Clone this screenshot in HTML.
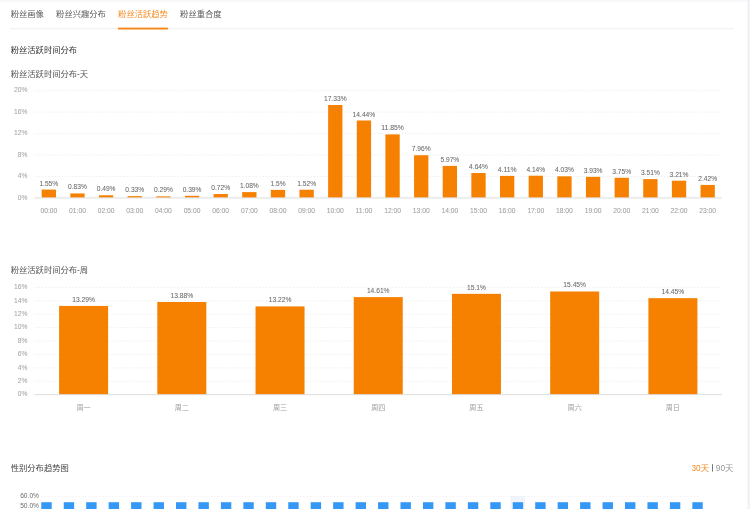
<!DOCTYPE html>
<html lang="zh-CN">
<head>
<meta charset="utf-8">
<title>粉丝活跃趋势</title>
<style>
html,body{margin:0;padding:0;background:#fff;}
body{width:750px;height:509px;overflow:hidden;font-family:"Liberation Sans","Noto Sans CJK SC",sans-serif;}
svg{display:block;position:absolute;left:0;top:0;will-change:transform;}
svg text{font-family:"Liberation Sans","Noto Sans CJK SC",sans-serif;}
.t{position:absolute;white-space:nowrap;line-height:1.2;color:transparent;overflow:hidden;}
</style>
</head>
<body>
<svg width="750" height="509" viewBox="0 0 750 509">
<rect x="0.00" y="0.00" width="750.00" height="2.00" fill="#f6f7f9"/>
<rect x="747.40" y="0.00" width="2.60" height="509.00" fill="#f0f2f6"/>
<line x1="10.00" y1="28.70" x2="733.50" y2="28.70" stroke="#eeeeee" stroke-width="0.90"/>
<text x="10.70" y="17.35" font-size="8.3" fill="#5a5a5a">粉丝画像</text>
<text x="56.10" y="17.35" font-size="8.3" fill="#5a5a5a">粉丝兴趣分布</text>
<text x="118.10" y="17.35" font-size="8.3" fill="#f58a1f">粉丝活跃趋势</text>
<rect x="118.10" y="27.60" width="49.80" height="1.90" fill="#f6851a"/>
<text x="180.10" y="17.35" font-size="8.3" fill="#5a5a5a">粉丝重合度</text>
<text x="10.70" y="53.45" font-size="8.3" fill="#333">粉丝活跃时间分布</text>
<text x="10.70" y="76.55" font-size="8.3" fill="#555">粉丝活跃时间分布-天</text>
<line x1="34.50" y1="176.46" x2="722.00" y2="176.46" stroke="#ebebef" stroke-width="0.70" stroke-dasharray="1.8 1.6"/>
<line x1="34.50" y1="155.02" x2="722.00" y2="155.02" stroke="#ebebef" stroke-width="0.70" stroke-dasharray="1.8 1.6"/>
<line x1="34.50" y1="133.58" x2="722.00" y2="133.58" stroke="#ebebef" stroke-width="0.70" stroke-dasharray="1.8 1.6"/>
<line x1="34.50" y1="112.14" x2="722.00" y2="112.14" stroke="#ebebef" stroke-width="0.70" stroke-dasharray="1.8 1.6"/>
<line x1="34.50" y1="90.70" x2="722.00" y2="90.70" stroke="#ebebef" stroke-width="0.70" stroke-dasharray="1.8 1.6"/>
<text x="27.40" y="199.60" fill="#a6a6a6" font-size="7.35" text-anchor="end" textLength="9.63" lengthAdjust="spacingAndGlyphs" stroke="#a6a6a6" stroke-width="0.06">0%</text>
<text x="27.40" y="178.16" fill="#a6a6a6" font-size="7.35" text-anchor="end" textLength="9.63" lengthAdjust="spacingAndGlyphs" stroke="#a6a6a6" stroke-width="0.06">4%</text>
<text x="27.40" y="156.72" fill="#a6a6a6" font-size="7.35" text-anchor="end" textLength="9.63" lengthAdjust="spacingAndGlyphs" stroke="#a6a6a6" stroke-width="0.06">8%</text>
<text x="27.40" y="135.28" fill="#a6a6a6" font-size="7.35" text-anchor="end" textLength="13.46" lengthAdjust="spacingAndGlyphs" stroke="#a6a6a6" stroke-width="0.06">12%</text>
<text x="27.40" y="113.84" fill="#a6a6a6" font-size="7.35" text-anchor="end" textLength="13.46" lengthAdjust="spacingAndGlyphs" stroke="#a6a6a6" stroke-width="0.06">16%</text>
<text x="27.40" y="92.40" fill="#a6a6a6" font-size="7.35" text-anchor="end" textLength="13.46" lengthAdjust="spacingAndGlyphs" stroke="#a6a6a6" stroke-width="0.06">20%</text>
<rect x="41.67" y="189.59" width="14.30" height="8.21" fill="#f68000"/>
<text x="48.82" y="185.59" fill="#6a6a6a" font-size="7.35" text-anchor="middle" textLength="18.83" lengthAdjust="spacingAndGlyphs" stroke="#6a6a6a" stroke-width="0.06">1.55%</text>
<text x="48.82" y="212.90" fill="#a0a0a0" font-size="7.35" text-anchor="middle" textLength="16.85" lengthAdjust="spacingAndGlyphs" stroke="#a0a0a0" stroke-width="0.06">00:00</text>
<rect x="70.32" y="193.45" width="14.30" height="4.35" fill="#f68000"/>
<text x="77.47" y="189.45" fill="#6a6a6a" font-size="7.35" text-anchor="middle" textLength="18.83" lengthAdjust="spacingAndGlyphs" stroke="#6a6a6a" stroke-width="0.06">0.83%</text>
<text x="77.47" y="212.90" fill="#a0a0a0" font-size="7.35" text-anchor="middle" textLength="16.85" lengthAdjust="spacingAndGlyphs" stroke="#a0a0a0" stroke-width="0.06">01:00</text>
<rect x="98.96" y="195.27" width="14.30" height="2.53" fill="#f68000"/>
<text x="106.11" y="191.27" fill="#6a6a6a" font-size="7.35" text-anchor="middle" textLength="18.83" lengthAdjust="spacingAndGlyphs" stroke="#6a6a6a" stroke-width="0.06">0.49%</text>
<text x="106.11" y="212.90" fill="#a0a0a0" font-size="7.35" text-anchor="middle" textLength="16.85" lengthAdjust="spacingAndGlyphs" stroke="#a0a0a0" stroke-width="0.06">02:00</text>
<rect x="127.61" y="196.13" width="14.30" height="1.67" fill="#f68000"/>
<text x="134.76" y="192.13" fill="#6a6a6a" font-size="7.35" text-anchor="middle" textLength="18.83" lengthAdjust="spacingAndGlyphs" stroke="#6a6a6a" stroke-width="0.06">0.33%</text>
<text x="134.76" y="212.90" fill="#a0a0a0" font-size="7.35" text-anchor="middle" textLength="16.85" lengthAdjust="spacingAndGlyphs" stroke="#a0a0a0" stroke-width="0.06">03:00</text>
<rect x="156.26" y="196.35" width="14.30" height="1.45" fill="#f68000"/>
<text x="163.41" y="192.35" fill="#6a6a6a" font-size="7.35" text-anchor="middle" textLength="18.83" lengthAdjust="spacingAndGlyphs" stroke="#6a6a6a" stroke-width="0.06">0.29%</text>
<text x="163.41" y="212.90" fill="#a0a0a0" font-size="7.35" text-anchor="middle" textLength="16.85" lengthAdjust="spacingAndGlyphs" stroke="#a0a0a0" stroke-width="0.06">04:00</text>
<rect x="184.90" y="195.81" width="14.30" height="1.99" fill="#f68000"/>
<text x="192.05" y="191.81" fill="#6a6a6a" font-size="7.35" text-anchor="middle" textLength="18.83" lengthAdjust="spacingAndGlyphs" stroke="#6a6a6a" stroke-width="0.06">0.39%</text>
<text x="192.05" y="212.90" fill="#a0a0a0" font-size="7.35" text-anchor="middle" textLength="16.85" lengthAdjust="spacingAndGlyphs" stroke="#a0a0a0" stroke-width="0.06">05:00</text>
<rect x="213.55" y="194.04" width="14.30" height="3.76" fill="#f68000"/>
<text x="220.70" y="190.04" fill="#6a6a6a" font-size="7.35" text-anchor="middle" textLength="18.83" lengthAdjust="spacingAndGlyphs" stroke="#6a6a6a" stroke-width="0.06">0.72%</text>
<text x="220.70" y="212.90" fill="#a0a0a0" font-size="7.35" text-anchor="middle" textLength="16.85" lengthAdjust="spacingAndGlyphs" stroke="#a0a0a0" stroke-width="0.06">06:00</text>
<rect x="242.19" y="192.11" width="14.30" height="5.69" fill="#f68000"/>
<text x="249.34" y="188.11" fill="#6a6a6a" font-size="7.35" text-anchor="middle" textLength="18.83" lengthAdjust="spacingAndGlyphs" stroke="#6a6a6a" stroke-width="0.06">1.08%</text>
<text x="249.34" y="212.90" fill="#a0a0a0" font-size="7.35" text-anchor="middle" textLength="16.85" lengthAdjust="spacingAndGlyphs" stroke="#a0a0a0" stroke-width="0.06">07:00</text>
<rect x="270.84" y="189.86" width="14.30" height="7.94" fill="#f68000"/>
<text x="277.99" y="185.86" fill="#6a6a6a" font-size="7.35" text-anchor="middle" textLength="15.00" lengthAdjust="spacingAndGlyphs" stroke="#6a6a6a" stroke-width="0.06">1.5%</text>
<text x="277.99" y="212.90" fill="#a0a0a0" font-size="7.35" text-anchor="middle" textLength="16.85" lengthAdjust="spacingAndGlyphs" stroke="#a0a0a0" stroke-width="0.06">08:00</text>
<rect x="299.49" y="189.75" width="14.30" height="8.05" fill="#f68000"/>
<text x="306.64" y="185.75" fill="#6a6a6a" font-size="7.35" text-anchor="middle" textLength="18.83" lengthAdjust="spacingAndGlyphs" stroke="#6a6a6a" stroke-width="0.06">1.52%</text>
<text x="306.64" y="212.90" fill="#a0a0a0" font-size="7.35" text-anchor="middle" textLength="16.85" lengthAdjust="spacingAndGlyphs" stroke="#a0a0a0" stroke-width="0.06">09:00</text>
<rect x="328.13" y="105.01" width="14.30" height="92.79" fill="#f68000"/>
<text x="335.28" y="101.01" fill="#6a6a6a" font-size="7.35" text-anchor="middle" textLength="22.66" lengthAdjust="spacingAndGlyphs" stroke="#6a6a6a" stroke-width="0.06">17.33%</text>
<text x="335.28" y="212.90" fill="#a0a0a0" font-size="7.35" text-anchor="middle" textLength="16.85" lengthAdjust="spacingAndGlyphs" stroke="#a0a0a0" stroke-width="0.06">10:00</text>
<rect x="356.78" y="120.50" width="14.30" height="77.30" fill="#f68000"/>
<text x="363.93" y="116.50" fill="#6a6a6a" font-size="7.35" text-anchor="middle" textLength="22.66" lengthAdjust="spacingAndGlyphs" stroke="#6a6a6a" stroke-width="0.06">14.44%</text>
<text x="363.93" y="212.90" fill="#a0a0a0" font-size="7.35" text-anchor="middle" textLength="16.85" lengthAdjust="spacingAndGlyphs" stroke="#a0a0a0" stroke-width="0.06">11:00</text>
<rect x="385.42" y="134.38" width="14.30" height="63.42" fill="#f68000"/>
<text x="392.57" y="130.38" fill="#6a6a6a" font-size="7.35" text-anchor="middle" textLength="22.66" lengthAdjust="spacingAndGlyphs" stroke="#6a6a6a" stroke-width="0.06">11.85%</text>
<text x="392.57" y="212.90" fill="#a0a0a0" font-size="7.35" text-anchor="middle" textLength="16.85" lengthAdjust="spacingAndGlyphs" stroke="#a0a0a0" stroke-width="0.06">12:00</text>
<rect x="414.07" y="155.23" width="14.30" height="42.57" fill="#f68000"/>
<text x="421.22" y="151.23" fill="#6a6a6a" font-size="7.35" text-anchor="middle" textLength="18.83" lengthAdjust="spacingAndGlyphs" stroke="#6a6a6a" stroke-width="0.06">7.96%</text>
<text x="421.22" y="212.90" fill="#a0a0a0" font-size="7.35" text-anchor="middle" textLength="16.85" lengthAdjust="spacingAndGlyphs" stroke="#a0a0a0" stroke-width="0.06">13:00</text>
<rect x="442.71" y="165.90" width="14.30" height="31.90" fill="#f68000"/>
<text x="449.86" y="161.90" fill="#6a6a6a" font-size="7.35" text-anchor="middle" textLength="18.83" lengthAdjust="spacingAndGlyphs" stroke="#6a6a6a" stroke-width="0.06">5.97%</text>
<text x="449.86" y="212.90" fill="#a0a0a0" font-size="7.35" text-anchor="middle" textLength="16.85" lengthAdjust="spacingAndGlyphs" stroke="#a0a0a0" stroke-width="0.06">14:00</text>
<rect x="471.36" y="173.03" width="14.30" height="24.77" fill="#f68000"/>
<text x="478.51" y="169.03" fill="#6a6a6a" font-size="7.35" text-anchor="middle" textLength="18.83" lengthAdjust="spacingAndGlyphs" stroke="#6a6a6a" stroke-width="0.06">4.64%</text>
<text x="478.51" y="212.90" fill="#a0a0a0" font-size="7.35" text-anchor="middle" textLength="16.85" lengthAdjust="spacingAndGlyphs" stroke="#a0a0a0" stroke-width="0.06">15:00</text>
<rect x="500.01" y="175.87" width="14.30" height="21.93" fill="#f68000"/>
<text x="507.16" y="171.87" fill="#6a6a6a" font-size="7.35" text-anchor="middle" textLength="18.83" lengthAdjust="spacingAndGlyphs" stroke="#6a6a6a" stroke-width="0.06">4.11%</text>
<text x="507.16" y="212.90" fill="#a0a0a0" font-size="7.35" text-anchor="middle" textLength="16.85" lengthAdjust="spacingAndGlyphs" stroke="#a0a0a0" stroke-width="0.06">16:00</text>
<rect x="528.65" y="175.71" width="14.30" height="22.09" fill="#f68000"/>
<text x="535.80" y="171.71" fill="#6a6a6a" font-size="7.35" text-anchor="middle" textLength="18.83" lengthAdjust="spacingAndGlyphs" stroke="#6a6a6a" stroke-width="0.06">4.14%</text>
<text x="535.80" y="212.90" fill="#a0a0a0" font-size="7.35" text-anchor="middle" textLength="16.85" lengthAdjust="spacingAndGlyphs" stroke="#a0a0a0" stroke-width="0.06">17:00</text>
<rect x="557.30" y="176.30" width="14.30" height="21.50" fill="#f68000"/>
<text x="564.45" y="172.30" fill="#6a6a6a" font-size="7.35" text-anchor="middle" textLength="18.83" lengthAdjust="spacingAndGlyphs" stroke="#6a6a6a" stroke-width="0.06">4.03%</text>
<text x="564.45" y="212.90" fill="#a0a0a0" font-size="7.35" text-anchor="middle" textLength="16.85" lengthAdjust="spacingAndGlyphs" stroke="#a0a0a0" stroke-width="0.06">18:00</text>
<rect x="585.94" y="176.84" width="14.30" height="20.96" fill="#f68000"/>
<text x="593.09" y="172.84" fill="#6a6a6a" font-size="7.35" text-anchor="middle" textLength="18.83" lengthAdjust="spacingAndGlyphs" stroke="#6a6a6a" stroke-width="0.06">3.93%</text>
<text x="593.09" y="212.90" fill="#a0a0a0" font-size="7.35" text-anchor="middle" textLength="16.85" lengthAdjust="spacingAndGlyphs" stroke="#a0a0a0" stroke-width="0.06">19:00</text>
<rect x="614.59" y="177.80" width="14.30" height="20.00" fill="#f68000"/>
<text x="621.74" y="173.80" fill="#6a6a6a" font-size="7.35" text-anchor="middle" textLength="18.83" lengthAdjust="spacingAndGlyphs" stroke="#6a6a6a" stroke-width="0.06">3.75%</text>
<text x="621.74" y="212.90" fill="#a0a0a0" font-size="7.35" text-anchor="middle" textLength="16.85" lengthAdjust="spacingAndGlyphs" stroke="#a0a0a0" stroke-width="0.06">20:00</text>
<rect x="643.24" y="179.09" width="14.30" height="18.71" fill="#f68000"/>
<text x="650.39" y="175.09" fill="#6a6a6a" font-size="7.35" text-anchor="middle" textLength="18.83" lengthAdjust="spacingAndGlyphs" stroke="#6a6a6a" stroke-width="0.06">3.51%</text>
<text x="650.39" y="212.90" fill="#a0a0a0" font-size="7.35" text-anchor="middle" textLength="16.85" lengthAdjust="spacingAndGlyphs" stroke="#a0a0a0" stroke-width="0.06">21:00</text>
<rect x="671.88" y="180.69" width="14.30" height="17.11" fill="#f68000"/>
<text x="679.03" y="176.69" fill="#6a6a6a" font-size="7.35" text-anchor="middle" textLength="18.83" lengthAdjust="spacingAndGlyphs" stroke="#6a6a6a" stroke-width="0.06">3.21%</text>
<text x="679.03" y="212.90" fill="#a0a0a0" font-size="7.35" text-anchor="middle" textLength="16.85" lengthAdjust="spacingAndGlyphs" stroke="#a0a0a0" stroke-width="0.06">22:00</text>
<rect x="700.53" y="184.93" width="14.30" height="12.87" fill="#f68000"/>
<text x="707.68" y="180.93" fill="#6a6a6a" font-size="7.35" text-anchor="middle" textLength="18.83" lengthAdjust="spacingAndGlyphs" stroke="#6a6a6a" stroke-width="0.06">2.42%</text>
<text x="707.68" y="212.90" fill="#a0a0a0" font-size="7.35" text-anchor="middle" textLength="16.85" lengthAdjust="spacingAndGlyphs" stroke="#a0a0a0" stroke-width="0.06">23:00</text>
<line x1="34.50" y1="197.90" x2="722.00" y2="197.90" stroke="#dcdcdc" stroke-width="1.00"/>
<text x="10.70" y="273.35" font-size="8.3" fill="#555">粉丝活跃时间分布-周</text>
<line x1="34.50" y1="381.29" x2="722.00" y2="381.29" stroke="#ebebef" stroke-width="0.70" stroke-dasharray="1.8 1.6"/>
<line x1="34.50" y1="367.88" x2="722.00" y2="367.88" stroke="#ebebef" stroke-width="0.70" stroke-dasharray="1.8 1.6"/>
<line x1="34.50" y1="354.46" x2="722.00" y2="354.46" stroke="#ebebef" stroke-width="0.70" stroke-dasharray="1.8 1.6"/>
<line x1="34.50" y1="341.05" x2="722.00" y2="341.05" stroke="#ebebef" stroke-width="0.70" stroke-dasharray="1.8 1.6"/>
<line x1="34.50" y1="327.64" x2="722.00" y2="327.64" stroke="#ebebef" stroke-width="0.70" stroke-dasharray="1.8 1.6"/>
<line x1="34.50" y1="314.23" x2="722.00" y2="314.23" stroke="#ebebef" stroke-width="0.70" stroke-dasharray="1.8 1.6"/>
<line x1="34.50" y1="300.82" x2="722.00" y2="300.82" stroke="#ebebef" stroke-width="0.70" stroke-dasharray="1.8 1.6"/>
<line x1="34.50" y1="287.40" x2="722.00" y2="287.40" stroke="#ebebef" stroke-width="0.70" stroke-dasharray="1.8 1.6"/>
<text x="27.40" y="396.40" fill="#a6a6a6" font-size="7.35" text-anchor="end" textLength="9.63" lengthAdjust="spacingAndGlyphs" stroke="#a6a6a6" stroke-width="0.06">0%</text>
<text x="27.40" y="382.99" fill="#a6a6a6" font-size="7.35" text-anchor="end" textLength="9.63" lengthAdjust="spacingAndGlyphs" stroke="#a6a6a6" stroke-width="0.06">2%</text>
<text x="27.40" y="369.58" fill="#a6a6a6" font-size="7.35" text-anchor="end" textLength="9.63" lengthAdjust="spacingAndGlyphs" stroke="#a6a6a6" stroke-width="0.06">4%</text>
<text x="27.40" y="356.16" fill="#a6a6a6" font-size="7.35" text-anchor="end" textLength="9.63" lengthAdjust="spacingAndGlyphs" stroke="#a6a6a6" stroke-width="0.06">6%</text>
<text x="27.40" y="342.75" fill="#a6a6a6" font-size="7.35" text-anchor="end" textLength="9.63" lengthAdjust="spacingAndGlyphs" stroke="#a6a6a6" stroke-width="0.06">8%</text>
<text x="27.40" y="329.34" fill="#a6a6a6" font-size="7.35" text-anchor="end" textLength="13.46" lengthAdjust="spacingAndGlyphs" stroke="#a6a6a6" stroke-width="0.06">10%</text>
<text x="27.40" y="315.93" fill="#a6a6a6" font-size="7.35" text-anchor="end" textLength="13.46" lengthAdjust="spacingAndGlyphs" stroke="#a6a6a6" stroke-width="0.06">12%</text>
<text x="27.40" y="302.52" fill="#a6a6a6" font-size="7.35" text-anchor="end" textLength="13.46" lengthAdjust="spacingAndGlyphs" stroke="#a6a6a6" stroke-width="0.06">14%</text>
<text x="27.40" y="289.10" fill="#a6a6a6" font-size="7.35" text-anchor="end" textLength="13.46" lengthAdjust="spacingAndGlyphs" stroke="#a6a6a6" stroke-width="0.06">16%</text>
<rect x="59.11" y="305.92" width="49.00" height="88.68" fill="#f68000"/>
<text x="83.61" y="301.92" fill="#6a6a6a" font-size="7.35" text-anchor="middle" textLength="22.66" lengthAdjust="spacingAndGlyphs" stroke="#6a6a6a" stroke-width="0.06">13.29%</text>
<text x="76.51" y="409.70" font-size="7.1" fill="#a0a0a0">周一</text>
<rect x="157.32" y="301.98" width="49.00" height="92.62" fill="#f68000"/>
<text x="181.82" y="297.98" fill="#6a6a6a" font-size="7.35" text-anchor="middle" textLength="22.66" lengthAdjust="spacingAndGlyphs" stroke="#6a6a6a" stroke-width="0.06">13.88%</text>
<text x="174.72" y="409.70" font-size="7.1" fill="#a0a0a0">周二</text>
<rect x="255.54" y="306.39" width="49.00" height="88.21" fill="#f68000"/>
<text x="280.04" y="302.39" fill="#6a6a6a" font-size="7.35" text-anchor="middle" textLength="22.66" lengthAdjust="spacingAndGlyphs" stroke="#6a6a6a" stroke-width="0.06">13.22%</text>
<text x="272.94" y="409.70" font-size="7.1" fill="#a0a0a0">周三</text>
<rect x="353.75" y="297.11" width="49.00" height="97.49" fill="#f68000"/>
<text x="378.25" y="293.11" fill="#6a6a6a" font-size="7.35" text-anchor="middle" textLength="22.66" lengthAdjust="spacingAndGlyphs" stroke="#6a6a6a" stroke-width="0.06">14.61%</text>
<text x="371.15" y="409.70" font-size="7.1" fill="#a0a0a0">周四</text>
<rect x="451.96" y="293.83" width="49.00" height="100.77" fill="#f68000"/>
<text x="476.46" y="289.83" fill="#6a6a6a" font-size="7.35" text-anchor="middle" textLength="18.83" lengthAdjust="spacingAndGlyphs" stroke="#6a6a6a" stroke-width="0.06">15.1%</text>
<text x="469.36" y="409.70" font-size="7.1" fill="#a0a0a0">周五</text>
<rect x="550.18" y="291.49" width="49.00" height="103.11" fill="#f68000"/>
<text x="574.68" y="287.49" fill="#6a6a6a" font-size="7.35" text-anchor="middle" textLength="22.66" lengthAdjust="spacingAndGlyphs" stroke="#6a6a6a" stroke-width="0.06">15.45%</text>
<text x="567.58" y="409.70" font-size="7.1" fill="#a0a0a0">周六</text>
<rect x="648.39" y="298.17" width="49.00" height="96.43" fill="#f68000"/>
<text x="672.89" y="294.17" fill="#6a6a6a" font-size="7.35" text-anchor="middle" textLength="22.66" lengthAdjust="spacingAndGlyphs" stroke="#6a6a6a" stroke-width="0.06">14.45%</text>
<text x="665.79" y="409.70" font-size="7.1" fill="#a0a0a0">周日</text>
<line x1="34.50" y1="394.70" x2="722.00" y2="394.70" stroke="#dcdcdc" stroke-width="1.00"/>
<text x="10.70" y="470.75" font-size="8.3" fill="#444">性别分布趋势图</text>
<text x="715.79" y="470.65" font-size="8.3" fill="#999">90天</text>
<rect x="712.0" y="464.2" width="0.8" height="7.4" fill="#555"/>
<text x="691.49" y="470.65" font-size="8.3" fill="#f58a1f">30天</text>
<rect x="510.40" y="496.00" width="14.60" height="13.00" fill="#f1f4fa"/>
<line x1="41.00" y1="496.30" x2="700.00" y2="496.30" stroke="#ececf0" stroke-width="0.70" stroke-dasharray="1.8 1.6"/>
<text x="39.00" y="498.40" fill="#6c6c6c" font-size="7.35" text-anchor="end" textLength="18.83" lengthAdjust="spacingAndGlyphs" stroke="#6c6c6c" stroke-width="0.00">60.0%</text>
<text x="39.00" y="507.90" fill="#6c6c6c" font-size="7.35" text-anchor="end" textLength="18.83" lengthAdjust="spacingAndGlyphs" stroke="#6c6c6c" stroke-width="0.00">50.0%</text>
<rect x="41.30" y="502.20" width="10.40" height="7.00" fill="#3598f6"/>
<rect x="63.75" y="502.20" width="10.40" height="7.00" fill="#3598f6"/>
<rect x="86.20" y="502.20" width="10.40" height="7.00" fill="#3598f6"/>
<rect x="108.65" y="502.20" width="10.40" height="7.00" fill="#3598f6"/>
<rect x="131.10" y="502.20" width="10.40" height="7.00" fill="#3598f6"/>
<rect x="153.55" y="502.20" width="10.40" height="7.00" fill="#3598f6"/>
<rect x="176.00" y="502.20" width="10.40" height="7.00" fill="#3598f6"/>
<rect x="198.45" y="502.20" width="10.40" height="7.00" fill="#3598f6"/>
<rect x="220.90" y="502.20" width="10.40" height="7.00" fill="#3598f6"/>
<rect x="243.35" y="502.20" width="10.40" height="7.00" fill="#3598f6"/>
<rect x="265.80" y="502.20" width="10.40" height="7.00" fill="#3598f6"/>
<rect x="288.25" y="502.20" width="10.40" height="7.00" fill="#3598f6"/>
<rect x="310.70" y="502.20" width="10.40" height="7.00" fill="#3598f6"/>
<rect x="333.15" y="502.20" width="10.40" height="7.00" fill="#3598f6"/>
<rect x="355.60" y="502.20" width="10.40" height="7.00" fill="#3598f6"/>
<rect x="378.05" y="502.20" width="10.40" height="7.00" fill="#3598f6"/>
<rect x="400.50" y="502.20" width="10.40" height="7.00" fill="#3598f6"/>
<rect x="422.95" y="502.20" width="10.40" height="7.00" fill="#3598f6"/>
<rect x="445.40" y="502.20" width="10.40" height="7.00" fill="#3598f6"/>
<rect x="467.85" y="502.20" width="10.40" height="7.00" fill="#3598f6"/>
<rect x="490.30" y="502.20" width="10.40" height="7.00" fill="#3598f6"/>
<rect x="512.75" y="502.20" width="10.40" height="7.00" fill="#3598f6"/>
<rect x="535.20" y="502.20" width="10.40" height="7.00" fill="#3598f6"/>
<rect x="557.65" y="502.20" width="10.40" height="7.00" fill="#3598f6"/>
<rect x="580.10" y="502.20" width="10.40" height="7.00" fill="#3598f6"/>
<rect x="602.55" y="502.20" width="10.40" height="7.00" fill="#3598f6"/>
<rect x="625.00" y="502.20" width="10.40" height="7.00" fill="#3598f6"/>
<rect x="647.45" y="502.20" width="10.40" height="7.00" fill="#3598f6"/>
<rect x="669.90" y="502.20" width="10.40" height="7.00" fill="#3598f6"/>
<rect x="692.35" y="502.20" width="10.40" height="7.00" fill="#3598f6"/>
</svg>
<div class="t" style="left:10.7px;top:9.2px;font-size:8.3px">粉丝画像</div>
<div class="t" style="left:56.1px;top:9.2px;font-size:8.3px">粉丝兴趣分布</div>
<div class="t" style="left:118.1px;top:9.2px;font-size:8.3px">粉丝活跃趋势</div>
<div class="t" style="left:180.1px;top:9.2px;font-size:8.3px">粉丝重合度</div>
<div class="t" style="left:10.7px;top:45.3px;font-size:8.3px">粉丝活跃时间分布</div>
<div class="t" style="left:10.7px;top:68.4px;font-size:8.3px">粉丝活跃时间分布-天</div>
<div class="t" style="left:10.7px;top:265.2px;font-size:8.3px">粉丝活跃时间分布-周</div>
<div class="t" style="left:76.5px;top:402.7px;font-size:7.1px">周一</div>
<div class="t" style="left:174.7px;top:402.7px;font-size:7.1px">周二</div>
<div class="t" style="left:272.9px;top:402.7px;font-size:7.1px">周三</div>
<div class="t" style="left:371.1px;top:402.7px;font-size:7.1px">周四</div>
<div class="t" style="left:469.4px;top:402.7px;font-size:7.1px">周五</div>
<div class="t" style="left:567.6px;top:402.7px;font-size:7.1px">周六</div>
<div class="t" style="left:665.8px;top:402.7px;font-size:7.1px">周日</div>
<div class="t" style="left:10.7px;top:462.6px;font-size:8.3px">性别分布趋势图</div>
<div class="t" style="left:715.8px;top:462.5px;font-size:8.3px">90天</div>
<div class="t" style="left:691.5px;top:462.5px;font-size:8.3px">30天</div>
</body>
</html>
